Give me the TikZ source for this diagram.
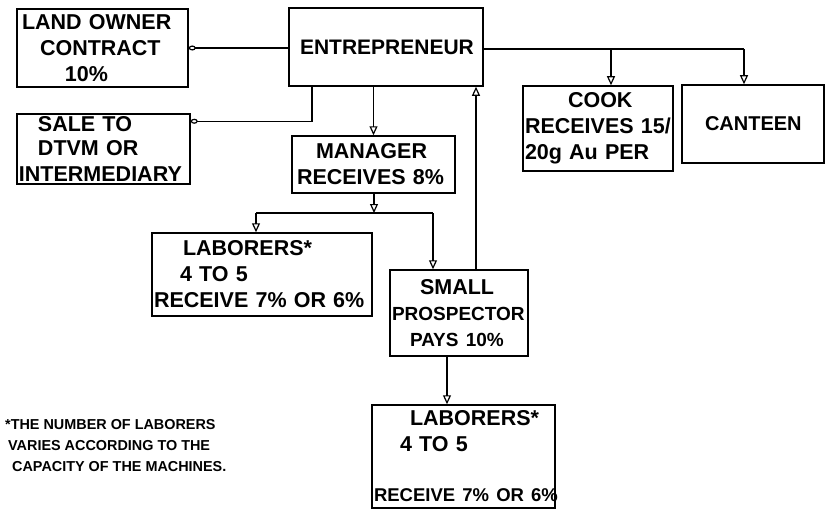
\documentclass[tikz,border=0pt]{standalone}
\usepackage{fontspec}
\setmainfont{Liberation Sans}
\usetikzlibrary{arrows.meta,calc}
\newcommand{\fsz}[1]{\fontsize{#1}{26}\selectfont}
\begin{document}
\begin{tikzpicture}[x=1pt,y=-1pt,
  box/.style={draw,line width=1.5pt,inner xsep=2pt,inner ysep=0pt,align=left,
    font=\fontsize{21.5}{26}\selectfont\bfseries},
  arr/.style={line width=1.3pt,-{Triangle[open,length=9pt,width=8pt,line width=1.2pt]}},
  dotend/.style={line width=1.3pt,-{Ellipse[open,length=7pt,width=5pt,line width=1.2pt]}},
  ln/.style={line width=1.3pt}]
\useasboundingbox (0,0) rectangle (830,511);
\newcommand{\bx}[6]{% name, left, top, right, bottom, text
  \node[box,minimum width={#4-#2},minimum height={#5-#3},text width={#4-#2-4}]
    (#1) at ({(#2+#4)/2},{(#3+#5)/2}) {#6};}
\bx{land}{17}{9}{188}{87}{\hspace*{3pt}LAND OWNER\\\hspace*{21pt}CONTRACT\\\hspace*{46pt}10\%}
\bx{sale}{17}{114}{190}{184}{\fontsize{21.5}{23.5}\selectfont\hspace*{19pt}SALE TO\\\hspace*{19pt}DTVM OR\\INTERMEDIARY}
\bx{ent}{289}{8}{483}{86}{\fsz{21}\hspace*{9pt}ENTREPRENEUR}
\bx{manager}{292}{136}{455}{193}{\hspace*{22pt}MANAGER\\\hspace*{3pt}RECEIVES 8\%}
\bx{cook}{523}{86}{673}{171}{\hspace*{43pt}COOK\\RECEIVES 15/\\20g Au PER}
\bx{canteen}{682}{85}{824}{163}{\fsz{20}\hspace*{21pt}CANTEEN}
\bx{labA}{152}{233}{372}{316}{\hspace*{29pt}LABORERS*\\\hspace*{26pt}4 TO 5\\RECEIVE 7\% OR 6\%}
\bx{prosp}{390}{270}{528}{356}{\hspace*{28pt}SMALL\\\fsz{19}PROSPECTOR\\\fsz{19}\hspace*{18pt}PAYS 10\%}
\bx{labB}{372}{405}{555}{508}{\hspace*{36pt}LABORERS*\\\hspace*{26pt}4 TO 5\\[24pt]\mbox{\fsz{18.5}RECEIVE 7\% OR 6\%}}
\node[anchor=north west,align=left,inner sep=0pt,
  font=\fontsize{14.4}{21}\selectfont\bfseries] (note) at (5,419)
  {*THE NUMBER OF LABORERS\\\hspace*{3pt}VARIES ACCORDING TO THE\\\hspace*{7pt}CAPACITY OF THE MACHINES.};
% junction coordinates
\coordinate (js) at (312,0);
\coordinate (jc) at (611,49);
\coordinate (jk) at (744,49);
\coordinate (ju) at (476,0);
\coordinate (jm) at (374,213);
\coordinate (jl) at (256,213);
\coordinate (jr) at (433,213);
\coordinate (jp) at (447,0);
% connectors
\draw[dotend] (land.east -| ent.west) -- (land.east);
\draw[dotend] (js |- ent.south) |- ($(sale.north east)+(0,8)$);
\draw[arr] (manager.north |- ent.south) -- (manager.north);
\draw[ln] (ent.east |- jc) -- (jk);
\draw[arr] (jc) -- (jc |- cook.north);
\draw[arr] (jk) -- (jk |- canteen.north);
\draw[arr] (ju |- prosp.north) -- (ju |- ent.south);
\draw[arr] (jm |- manager.south) -- (jm);
\draw[ln] (jl) -- (jr);
\draw[arr] (jl) -- (jl |- labA.north);
\draw[arr] (jr) -- (jr |- prosp.north);
\draw[arr] (jp |- prosp.south) -- (jp |- labB.north);
\end{tikzpicture}
\end{document}
